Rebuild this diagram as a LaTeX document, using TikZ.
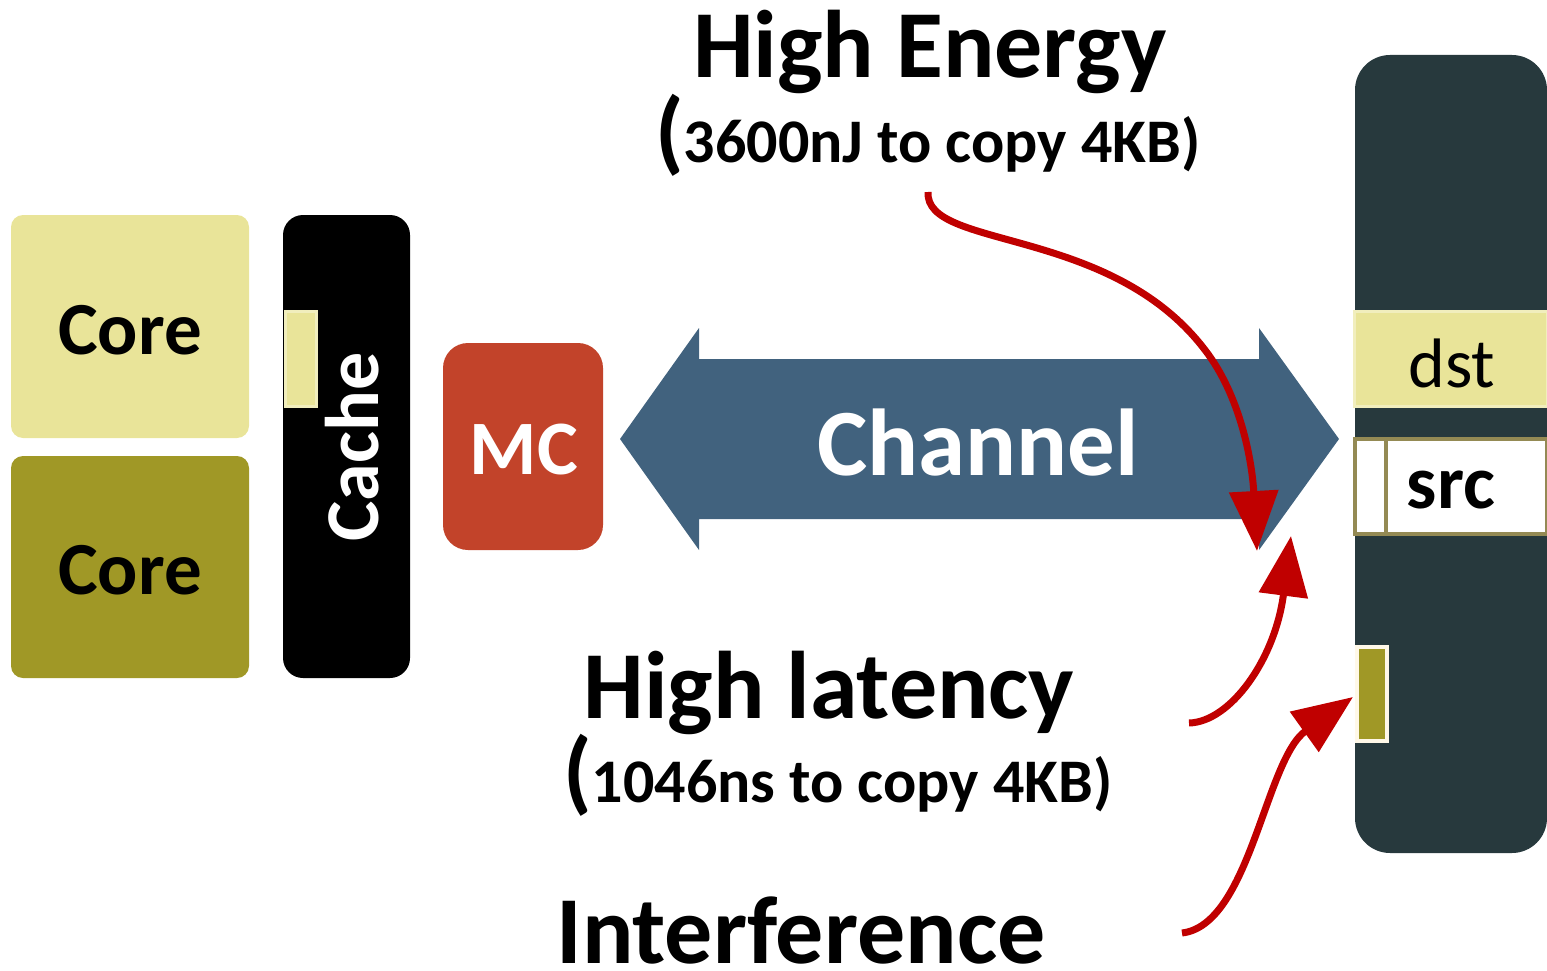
\documentclass[tikz,border=0pt]{standalone}
\usepackage{fontspec}
\setmainfont{Carlito}
\usetikzlibrary{arrows.meta}
\definecolor{coreLight}{HTML}{E9E499}
\definecolor{coreLightEdge}{HTML}{F1EEBD}
\definecolor{coreDark}{HTML}{A09826}
\definecolor{mcRed}{HTML}{C2432A}
\definecolor{chanBlue}{HTML}{41627E}
\definecolor{memDark}{HTML}{27393D}
\definecolor{srcEdge}{HTML}{948A54}
\definecolor{lineCream}{HTML}{FFF8E8}
\definecolor{arrowRed}{HTML}{C00000}
\tikzset{
  redarrow/.style={draw=arrowRed, line width=7pt,
    -{Triangle[length=60pt,width=48pt]}},
  bigtext/.style={font=\bfseries\fontsize{96}{96}\selectfont, inner sep=0pt},
  notetext/.style={anchor=base west, inner sep=0pt},
}
\begin{document}
\begin{tikzpicture}[x=1pt,y=-1pt]
\useasboundingbox (0,0) rectangle (1547,971);

% cores
\fill[coreLight, rounded corners=12pt] (11,215) rectangle (249,438);
\node[font=\bfseries\fontsize{75}{75}\selectfont] (core1) at (130,330) {Core};
\fill[coreDark, rounded corners=12pt] (11,456) rectangle (249,678);
\node[font=\bfseries\fontsize{75}{75}\selectfont] (core2) at (130,570) {Core};

% cache
\fill[black, rounded corners=20pt] (283,215) rectangle (410,678);
\draw[coreLightEdge, fill=coreLight, line width=3pt] (285,311) rectangle (316,406);
\node[text=white, rotate=90, font=\bfseries\fontsize{76}{76}\selectfont] (cache) at (352,447) {Cache};

% memory controller
\fill[mcRed, rounded corners=25pt] (443,343) rectangle (603,550);
\node[text=white, font=\bfseries\fontsize{77}{77}\selectfont] (mc) at (524,450) {MC};

% channel
\fill[chanBlue] (620,439) -- (699,328) -- (699,359) -- (1259,359) -- (1259,328)
  -- (1339,439) -- (1259,550) -- (1259,519) -- (699,519) -- (699,550) -- cycle;
\node[text=white, font=\bfseries\fontsize{95}{95}\selectfont, inner sep=0pt] (chan) at (978,443) {Channel};

% memory
\fill[memDark, rounded corners=35pt] (1355,55) rectangle (1547,853);
\draw[coreLightEdge, fill=coreLight, line width=3pt] (1354,311) rectangle (1547,406);
\node[font=\fontsize{70}{70}\selectfont] (dst) at (1452,363) {dst};
\draw[srcEdge, fill=white, line width=4pt] (1355,439) rectangle (1547,534);
\draw[srcEdge, line width=4pt] (1386,439) -- (1386,534);
\node[font=\bfseries\fontsize{76}{76}\selectfont] (src) at (1451,490) {src};
\draw[lineCream, fill=coreDark, line width=4pt] (1357,647) rectangle (1387,741);

% labels
\node[bigtext, anchor=base] (energy) at (930,78) {High Energy};
\node[notetext] (energyNote) at (655,162)
  {\bfseries{\fontsize{92}{92}\selectfont(}\fontsize{62}{62}\selectfont 3600nJ to copy 4KB)};
\node[bigtext, anchor=base] (latency) at (829,718) {High latency};
\node[notetext] (latencyNote) at (563,802)
  {\bfseries{\fontsize{92}{92}\selectfont(}\fontsize{62}{62}\selectfont 1046ns to copy 4KB)};
\node[bigtext, anchor=base] (interf) at (801,963) {Interference};

% red arrows
\coordinate (eStart) at (928,192);
\coordinate (eEnd) at (1257,551);
\coordinate (lStart) at (1189,723);
\coordinate (lEnd) at (1291,536);
\coordinate (iStart) at (1182,933);
\coordinate (iEnd) at (1353,697);
\draw[redarrow] (eStart) .. controls (925,250) and (1110,225) .. (1205,350)
  .. controls (1240,395) and (1252,460) .. (eEnd);
\draw[redarrow] (lStart) .. controls (1230,722) and (1275,660) .. (lEnd);
\draw[redarrow] (iStart) .. controls (1250,925) and (1265,760) .. (iEnd);
\end{tikzpicture}
\end{document}
